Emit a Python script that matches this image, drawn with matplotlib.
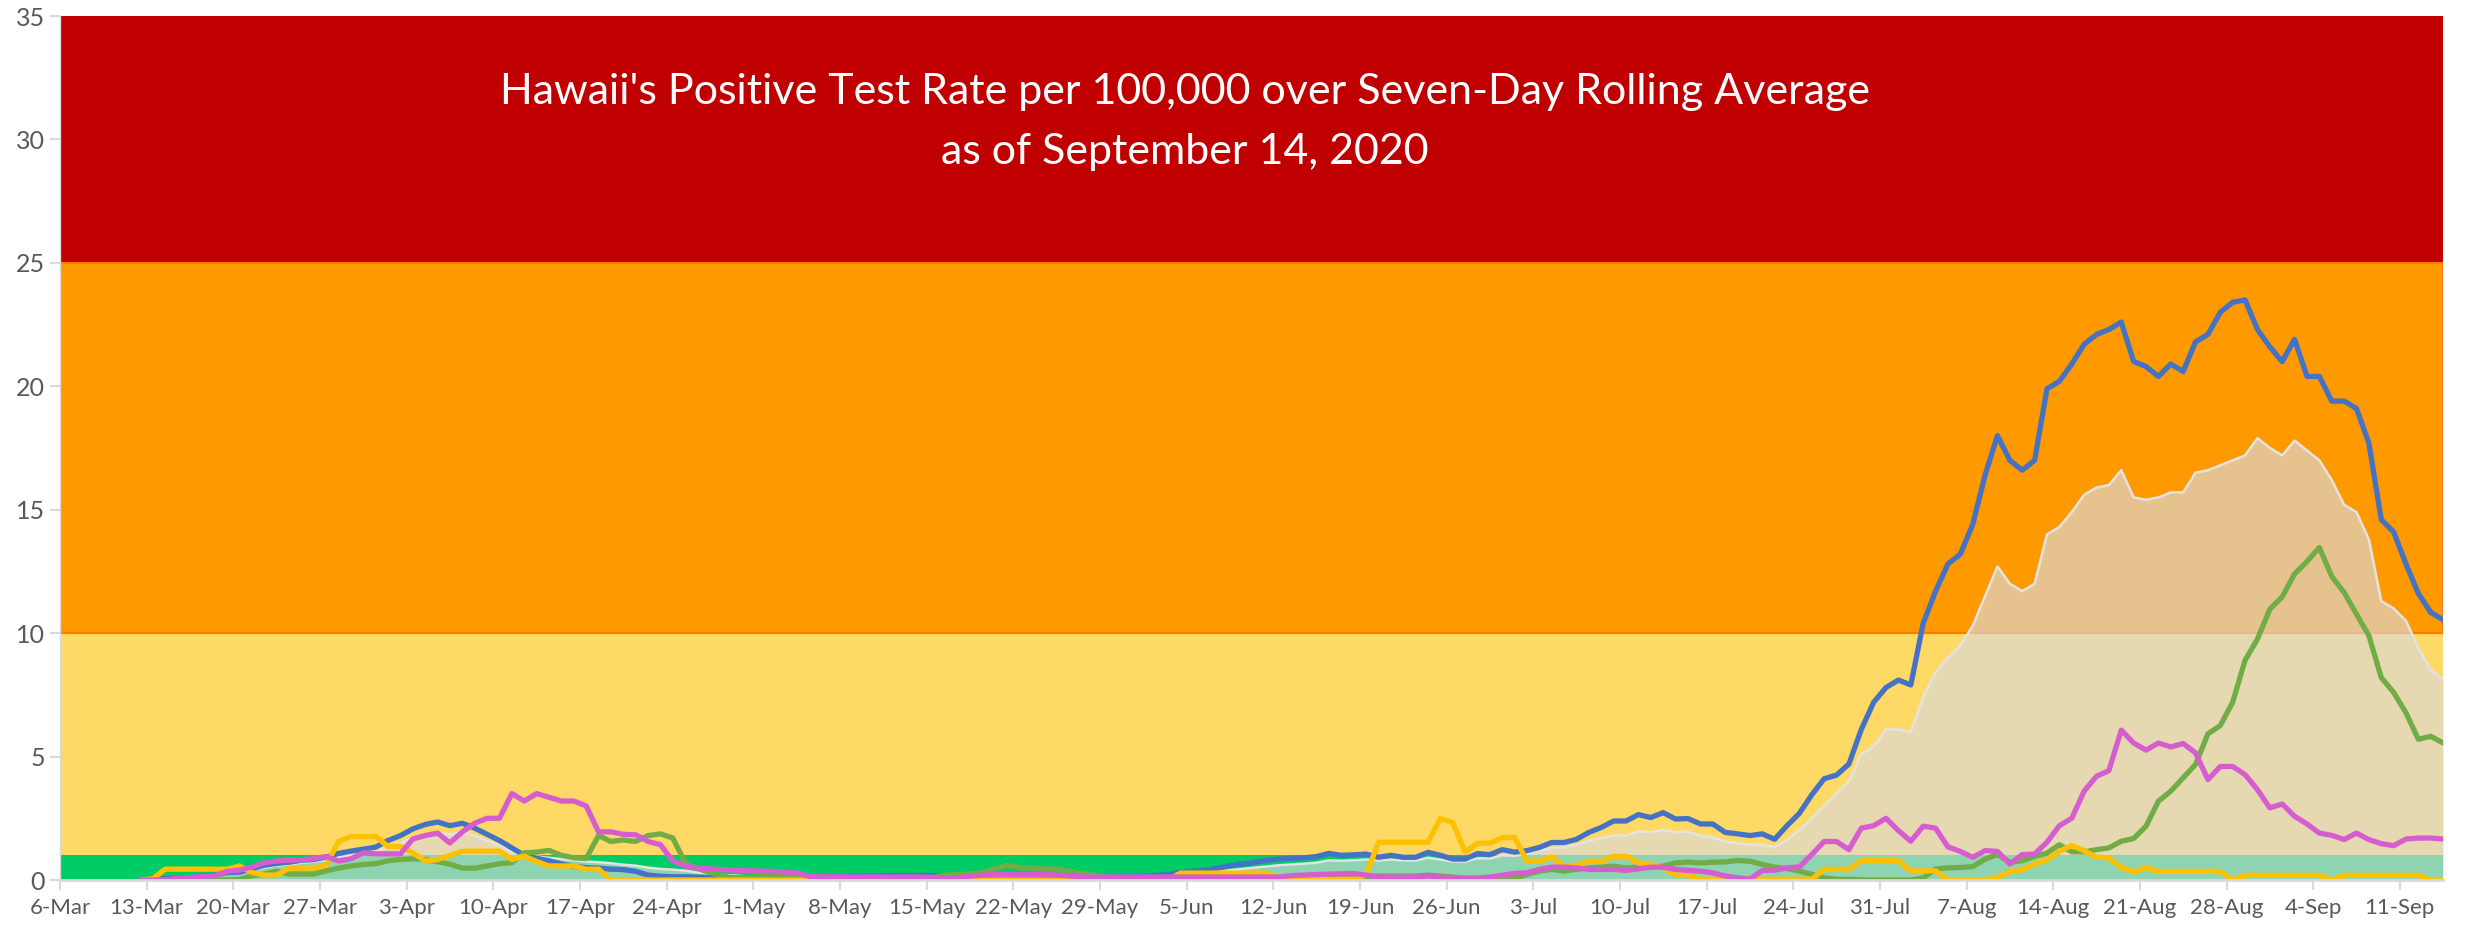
"""Hawaii positive test rate per 100,000 (seven-day rolling average) with risk bands."""

import matplotlib
import numpy as np
import pandas as pd
from matplotlib import font_manager

matplotlib.use("Agg")

import matplotlib.pyplot as plt

AXIS_START = pd.Timestamp("2020-03-06")
FIRST_DATE = "2020-03-12"
LAST_DATE = "2020-09-14"

TITLE_LINES = [
    "Hawaii's Positive Test Rate per 100,000 over Seven-Day Rolling Average",
    "as of September 14, 2020",
]

# risk bands: (low, high, colour)
BAND_LIMITS = [0, 1, 10, 25, 35]
BAND_COLORS = ["#00CC66", "#FFD966", "#FF9900", "#C00000"]

# daily values, 12-Mar .. 14-Sep (one line per month)
blue = (
    [0.0, 0.03, 0.05, 0.08, 0.1, 0.15, 0.2, 0.3, 0.32, 0.45, 0.6, 0.67, 0.72, 0.8, 0.83, 0.93, 1.08, 1.17, 1.25, 1.33]
    + [1.6, 1.8, 2.07, 2.25, 2.35, 2.2, 2.3, 2.1, 1.85, 1.6, 1.3, 1.0, 0.88, 0.78, 0.65, 0.55, 0.5, 0.48, 0.44, 0.42,
       0.35, 0.2, 0.15, 0.13, 0.13, 0.12, 0.1, 0.08, 0.08, 0.07]
    + [0.1, 0.1, 0.1, 0.12, 0.13, 0.13, 0.13, 0.15, 0.15, 0.15, 0.17, 0.18, 0.18, 0.18, 0.18, 0.17, 0.17, 0.17, 0.15,
       0.15, 0.15, 0.15, 0.13, 0.13, 0.13, 0.13, 0.13, 0.13, 0.13, 0.13, 0.13]
    + [0.15, 0.18, 0.22, 0.3, 0.35, 0.4, 0.48, 0.58, 0.65, 0.72, 0.8, 0.85, 0.88, 0.9, 0.95, 1.08, 1.0, 1.02, 1.05,
       0.92, 1.0, 0.92, 0.92, 1.12, 1.0, 0.85, 0.85, 1.07, 1.03, 1.23]
    + [1.13, 1.19, 1.32, 1.52, 1.52, 1.65, 1.93, 2.13, 2.39, 2.39, 2.65, 2.53, 2.73, 2.47, 2.49, 2.27, 2.27, 1.93,
       1.87, 1.8, 1.87, 1.65, 2.2, 2.7, 3.45, 4.1, 4.25, 4.7, 6.1, 7.2, 7.8]
    + [8.1, 7.9, 10.4, 11.7, 12.8, 13.2, 14.4, 16.4, 18.0, 17.0, 16.6, 17.0, 19.9, 20.2, 20.9, 21.7, 22.1, 22.3, 22.6,
       21.0, 20.8, 20.4, 20.9, 20.6, 21.8, 22.1, 23.0, 23.4, 23.5, 22.3, 21.6]
    + [21.0, 21.9, 20.4, 20.4, 19.4, 19.4, 19.1, 17.7, 14.6, 14.1, 12.8, 11.6, 10.84, 10.54]
)

gray = (
    [0.0, 0.02, 0.04, 0.06, 0.08, 0.12, 0.17, 0.25, 0.3, 0.4, 0.5, 0.58, 0.63, 0.7, 0.74, 0.8, 0.92, 1.0, 1.08, 1.15]
    + [1.35, 1.5, 1.7, 1.82, 1.9, 1.85, 1.95, 1.8, 1.6, 1.4, 1.15, 1.0, 0.95, 0.9, 0.85, 0.8, 0.75, 0.72, 0.68, 0.62,
       0.58, 0.5, 0.45, 0.42, 0.38, 0.3, 0.25, 0.2, 0.18, 0.15]
    + [0.15, 0.14, 0.14, 0.13, 0.13, 0.13, 0.13, 0.14, 0.14, 0.15, 0.15, 0.15, 0.15, 0.15, 0.15, 0.15, 0.15, 0.14,
       0.14, 0.14, 0.14, 0.14, 0.13, 0.13, 0.13, 0.13, 0.13, 0.13, 0.13, 0.13, 0.13]
    + [0.14, 0.15, 0.17, 0.2, 0.24, 0.28, 0.33, 0.4, 0.45, 0.5, 0.55, 0.6, 0.63, 0.66, 0.7, 0.8, 0.78, 0.8, 0.83,
       0.79, 0.83, 0.79, 0.79, 0.9, 0.83, 0.75, 0.74, 0.88, 0.87, 1.0]
    + [0.98, 1.05, 1.19, 1.3, 1.32, 1.42, 1.59, 1.7, 1.8, 1.8, 1.96, 1.93, 2.03, 1.93, 1.96, 1.8, 1.72, 1.56, 1.49,
       1.43, 1.43, 1.33, 1.63, 2.03, 2.5, 3.0, 3.5, 4.0, 5.1, 5.4, 6.1]
    + [6.1, 6.0, 7.4, 8.4, 9.0, 9.5, 10.3, 11.5, 12.7, 12.0, 11.7, 12.0, 14.0, 14.3, 14.9, 15.6, 15.9, 16.0, 16.6,
       15.5, 15.4, 15.5, 15.7, 15.7, 16.5, 16.6, 16.8, 17.0, 17.2, 17.9, 17.5]
    + [17.2, 17.8, 17.4, 17.0, 16.2, 15.2, 14.9, 13.8, 11.3, 11.0, 10.5, 9.4, 8.5, 8.14]
)

green = (
    [0, 0, 0, 0, 0, 0, 0, 0, 0.02, 0.17, 0.24, 0.36, 0.24, 0.24, 0.24, 0.37, 0.48, 0.57, 0.63, 0.66]
    + [0.78, 0.83, 0.86, 0.83, 0.74, 0.64, 0.48, 0.48, 0.57, 0.66, 0.7, 1.1, 1.13, 1.2, 1.0, 0.9, 0.87, 1.8, 1.56,
       1.62, 1.56, 1.8, 1.87, 1.7, 0.7, 0.47, 0.3, 0.15, 0.08, 0.1]
    + [0.13, 0.17, 0.2, 0.12, 0.05, 0.05, 0.05, 0.05, 0.05, 0.05, 0.05, 0.05, 0.05, 0.05, 0.1, 0.2, 0.22, 0.25, 0.3,
       0.45, 0.6, 0.5, 0.48, 0.45, 0.44, 0.35, 0.27, 0.2, 0.13, 0.05, 0.03]
    + [0.03, 0.03, 0.03, 0.03, 0.03, 0.03, 0.03, 0.03, 0.03, 0.03, 0.03, 0.03, 0.03, 0.1, 0.12, 0.14, 0.15, 0.15,
       0.15, 0.16, 0.16, 0.16, 0.16, 0.2, 0.16, 0.12, 0.07, 0.07, 0.07, 0.09]
    + [0.05, 0.23, 0.36, 0.43, 0.36, 0.43, 0.49, 0.52, 0.56, 0.49, 0.52, 0.52, 0.56, 0.69, 0.73, 0.69, 0.72, 0.73,
       0.79, 0.76, 0.63, 0.52, 0.47, 0.36, 0.23, 0.09, 0.03, 0.03, 0.0, 0.0, 0.0]
    + [0.0, 0.0, 0.08, 0.45, 0.49, 0.51, 0.54, 0.85, 1.03, 0.72, 0.78, 0.96, 1.09, 1.43, 1.14, 1.14, 1.23, 1.3, 1.57,
       1.68, 2.18, 3.19, 3.6, 4.14, 4.68, 5.92, 6.26, 7.2, 8.9, 9.76, 10.97]
    + [11.47, 12.4, 12.9, 13.47, 12.3, 11.65, 10.77, 9.9, 8.2, 7.6, 6.77, 5.7, 5.82, 5.55]
)

magenta = (
    [0, 0, 0, 0.07, 0.1, 0.14, 0.17, 0.35, 0.4, 0.53, 0.7, 0.77, 0.8, 0.82, 0.87, 0.95, 0.77, 0.86, 1.1, 1.06]
    + [1.06, 1.06, 1.66, 1.8, 1.9, 1.5, 1.95, 2.3, 2.5, 2.5, 3.5, 3.2, 3.5, 3.35, 3.2, 3.2, 3.0, 1.95, 1.95, 1.85,
       1.83, 1.56, 1.43, 0.77, 0.57, 0.48, 0.45, 0.42, 0.4, 0.38]
    + [0.36, 0.35, 0.33, 0.28, 0.15, 0.13, 0.13, 0.12, 0.12, 0.12, 0.12, 0.12, 0.12, 0.12, 0.1, 0.08, 0.1, 0.15, 0.2,
       0.22, 0.22, 0.22, 0.22, 0.22, 0.2, 0.17, 0.13, 0.12, 0.12, 0.12, 0.12]
    + [0.12, 0.12, 0.12, 0.12, 0.12, 0.12, 0.12, 0.12, 0.12, 0.12, 0.12, 0.12, 0.18, 0.2, 0.22, 0.24, 0.25, 0.26,
       0.2, 0.12, 0.12, 0.12, 0.12, 0.16, 0.12, 0.09, 0.07, 0.07, 0.12, 0.19]
    + [0.27, 0.29, 0.43, 0.52, 0.52, 0.49, 0.43, 0.43, 0.43, 0.39, 0.45, 0.52, 0.52, 0.43, 0.39, 0.36, 0.29, 0.16,
       0.09, 0.03, 0.39, 0.4, 0.49, 0.53, 1.03, 1.56, 1.56, 1.23, 2.1, 2.2, 2.5]
    + [2.0, 1.57, 2.18, 2.1, 1.34, 1.16, 0.92, 1.19, 1.16, 0.65, 1.03, 1.05, 1.53, 2.2, 2.5, 3.6, 4.2, 4.43, 6.07,
       5.55, 5.26, 5.55, 5.39, 5.53, 5.15, 4.07, 4.6, 4.6, 4.27, 3.66, 2.92]
    + [3.08, 2.58, 2.27, 1.9, 1.81, 1.64, 1.9, 1.64, 1.47, 1.39, 1.66, 1.7, 1.7, 1.66]
)

yellow = (
    [0, 0.05, 0.44, 0.44, 0.44, 0.44, 0.44, 0.44, 0.57, 0.3, 0.2, 0.2, 0.48, 0.48, 0.48, 0.6, 1.56, 1.76, 1.76, 1.76]
    + [1.36, 1.36, 1.1, 0.77, 0.83, 1.0, 1.17, 1.17, 1.17, 1.17, 0.83, 0.97, 0.75, 0.57, 0.57, 0.57, 0.44, 0.44,
       0, 0, 0, 0, 0, 0, 0, 0, 0, 0, 0, 0]
    + [0] * 31
    + [0, 0, 0, 0.28, 0.28, 0.28, 0.28, 0.28, 0.28, 0.28, 0.28, 0.1, 0.03, 0.03, 0.03, 0.03, 0.03, 0.03, 0.2,
       1.53, 1.53, 1.53, 1.53, 1.53, 2.49, 2.33, 1.13, 1.49, 1.49, 1.72]
    + [1.72, 0.76, 0.76, 0.93, 0.56, 0.6, 0.76, 0.76, 0.96, 0.96, 0.69, 0.63, 0.49, 0.2, 0.2, 0.03, 0.03, 0.03,
       0.03, 0.03, 0.03, 0.03, 0.03, 0.03, 0.03, 0.43, 0.43, 0.43, 0.78, 0.78, 0.78]
    + [0.78, 0.37, 0.37, 0.37, 0, 0, 0, 0, 0.1, 0.35, 0.42, 0.65, 0.82, 1.16, 1.4, 1.19, 0.92, 0.89, 0.51, 0.32,
       0.51, 0.35, 0.35, 0.35, 0.35, 0.35, 0.35, 0, 0.19, 0.19, 0.19]
    + [0.19, 0.19, 0.19, 0.19, 0, 0.19, 0.19, 0.19, 0.19, 0.19, 0.19, 0.19, 0, 0]
)

FONT = ["Lato", "DejaVu Sans"]
AXIS_GRAY = "#D9D9D9"
LABEL_GRAY = "#595959"
LINE_WIDTH = 3.8


def narrow_font() -> tuple[list[str], int]:
    """Use a condensed family for the date labels when one is installed."""

    names = {f.name for f in font_manager.fontManager.ttflist}
    if "Liberation Sans Narrow" in names:
        return ["Liberation Sans Narrow", "DejaVu Sans"], 19
    return FONT, 16


def main() -> None:
    dates = pd.date_range(FIRST_DATE, LAST_DATE, freq="D")
    for series in (blue, gray, green, magenta, yellow):
        assert len(series) == len(dates), len(series)
    # each daily point sits in the middle of its day slot
    x = (dates - AXIS_START).days.to_numpy() + 0.5
    x_end = x[-1]

    fig = plt.figure(figsize=(24.65, 9.30), dpi=100)
    ax = fig.add_axes([60 / 2465, 50 / 930, x_end * 12.38 / 2465, 864 / 930])

    for low, high, colour in zip(BAND_LIMITS[:-1], BAND_LIMITS[1:], BAND_COLORS):
        ax.axhspan(low, high, color=colour, lw=0, zorder=0)
    ax.axhspan(10, 25, facecolor="none", edgecolor="#FF7A00", lw=1.5, zorder=0.5)

    ax.fill_between(x, 0, gray, color="#D9D9D9", alpha=0.66, lw=0, zorder=1)
    ax.plot(x, gray, color="#E3E3E3", lw=1.8, zorder=1.5)

    style = dict(lw=LINE_WIDTH, solid_joinstyle="round", solid_capstyle="round")
    ax.plot(x, blue, color="#4472C4", zorder=2, **style)
    ax.plot(x, green, color="#70AD47", zorder=3, **style)
    ax.plot(x, yellow, color="#FFC000", zorder=4, **style)
    ax.plot(x, magenta, color="#D65DD0", zorder=5, **style)

    ax.set_xlim(0, x_end)
    ax.set_ylim(0, 35)

    date_family, date_size = narrow_font()
    tick_dates = pd.date_range(AXIS_START, "2020-09-11", freq="7D")
    ax.set_xticks((tick_dates - AXIS_START).days.to_numpy())
    ax.set_xticklabels([f"{d.day}-{d.strftime('%b')}" for d in tick_dates],
                       fontsize=date_size, color=LABEL_GRAY, family=date_family)
    ax.set_yticks(np.arange(0, 36, 5))
    ax.set_yticklabels([str(v) for v in range(0, 36, 5)], fontsize=18,
                       color=LABEL_GRAY, family=FONT)
    ax.tick_params(axis="both", colors=AXIS_GRAY, labelcolor=LABEL_GRAY,
                   length=7, width=1.5)
    ax.tick_params(axis="x", pad=6)
    ax.tick_params(axis="y", pad=4)

    for side in ("top", "right"):
        ax.spines[side].set_visible(False)
    ax.spines["bottom"].set_color(AXIS_GRAY)
    ax.spines["bottom"].set_linewidth(2)
    ax.spines["left"].set_color(AXIS_GRAY)
    ax.spines["left"].set_linewidth(1)
    ax.spines["bottom"].set_zorder(6)

    ax.text(0.472, 0.912, TITLE_LINES[0], transform=ax.transAxes, ha="center",
            va="center", fontsize=31, color="white", family=FONT)
    ax.text(0.472, 0.843, TITLE_LINES[1], transform=ax.transAxes, ha="center",
            va="center", fontsize=31, color="white", family=FONT)

    fig.savefig("out.png", dpi=100)
    plt.close(fig)


if __name__ == "__main__":
    main()
